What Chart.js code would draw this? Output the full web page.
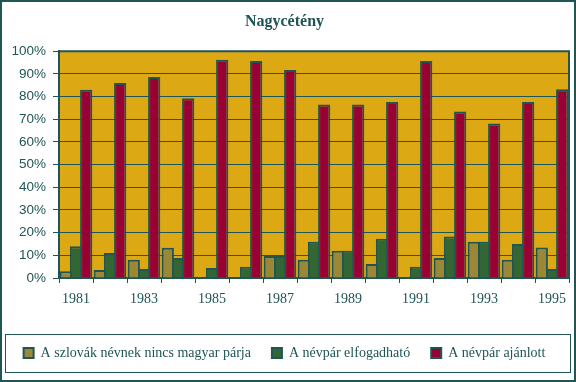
<!DOCTYPE html>
<html>
<head>
<meta charset="utf-8">
<script src="https://cdn.jsdelivr.net/npm/chart.js@4/dist/chart.umd.min.js"></script>
<style>
  html, body { margin: 0; padding: 0; background: #ffffff; }
  canvas { display: block; }
</style>
</head>
<body>
<canvas id="c" width="576" height="382"></canvas>
<script>
// ---- data ----
const chartTitle = 'Nagycétény';
const years = ['1981','1982','1983','1984','1985','1986','1987','1988','1989','1990','1991','1992','1993','1994','1995'];
const xTickLabels = ['1981','','1983','','1985','','1987','','1989','','1991','','1993','','1995'];
const seriesNames = ['A szlovák névnek nincs magyar párja', 'A névpár elfogadható', 'A névpár ajánlott'];
const noPair     = [3, 3.5, 8, 13.3, 0, 0, 9.7, 8, 12, 6.2, 0, 8.8, 16, 8, 13.4];
const acceptable = [14, 11, 4, 8.8, 4.4, 5, 9.7, 16, 12, 17.3, 5, 18.3, 16, 15, 4];
const recommended= [83, 86, 88.6, 79.3, 96.2, 95.7, 91.7, 76.5, 76.5, 77.6, 95.7, 73.4, 68.1, 77.6, 83.2];
const yTickValues = [0,10,20,30,40,50,60,70,80,90,100];

// ---- style ----
const TEAL = '#205555';
const GOLD = '#DCA915';
const OLIVE = '#9A8837';
const GREEN = '#336633';
const RED = '#990033';

const framePlugin = {
  id: 'frame',
  beforeDraw(chart) {
    const {ctx, chartArea: a} = chart;
    ctx.save();
    ctx.fillStyle = GOLD;
    ctx.fillRect(a.left, a.top, a.right - a.left, a.bottom - a.top);
    ctx.restore();
  },
  afterDatasetsDraw(chart) {
    const {ctx, chartArea: a} = chart;
    ctx.save();
    ctx.strokeStyle = TEAL;
    ctx.lineWidth = 2;
    ctx.beginPath();
    ctx.moveTo(a.left, a.top);
    ctx.lineTo(a.right, a.top);
    ctx.lineTo(a.right, a.bottom);
    ctx.stroke();
    ctx.restore();
  },
  afterDraw(chart) {
    const {ctx, width, height} = chart;
    ctx.save();
    ctx.strokeStyle = TEAL;
    ctx.lineWidth = 2;
    ctx.strokeRect(1, 1, width - 2, height - 2);
    // legend frame
    const hb = chart.legend && chart.legend.legendHitBoxes;
    if (hb && hb.length) {
      const cy = hb[0].top + hb[0].height / 2;
      ctx.lineWidth = 1;
      ctx.strokeRect(5.5, Math.round(cy - 19) + 0.5, width - 11, 38);
    }
    ctx.restore();
  }
};

new Chart(document.getElementById('c'), {
  type: 'bar',
  data: {
    labels: years,
    datasets: [
      { label: seriesNames[0], data: noPair, backgroundColor: OLIVE, borderColor: TEAL, borderWidth: 2 },
      { label: seriesNames[1], data: acceptable, backgroundColor: GREEN, borderColor: TEAL, borderWidth: 2 },
      { label: seriesNames[2], data: recommended, backgroundColor: RED, borderColor: TEAL, borderWidth: 2 }
    ]
  },
  options: {
    responsive: false,
    animation: false,
    devicePixelRatio: 1,
    datasets: { bar: { categoryPercentage: 0.9, barPercentage: 1.2 } },
    layout: { padding: { left: 0, right: 7, top: 0, bottom: 12 } },
    plugins: {
      title: {
        display: true,
        text: chartTitle,
        color: TEAL,
        font: { family: 'Liberation Serif', size: 16, weight: 'bold' },
        padding: { top: 12, bottom: 20 }
      },
      legend: {
        position: 'bottom',
        labels: {
          color: TEAL,
          font: { family: 'Liberation Serif', size: 14 },
          boxWidth: 10,
          boxHeight: 10,
          padding: 21
        }
      },
      tooltip: { enabled: false }
    },
    scales: {
      x: {
        offset: true,
        grid: { offset: true, drawOnChartArea: false, drawTicks: true, tickLength: 5, color: TEAL },
        border: { color: TEAL, width: 2 },
        ticks: {
          autoSkip: false, maxRotation: 0, minRotation: 0,
          color: TEAL, padding: 8,
          font: { family: 'Liberation Serif', size: 14 },
          callback: (v, i) => xTickLabels[i]
        },
        afterFit(scale) { scale.height = 47; }
      },
      y: {
        min: 0, max: 100,
        afterBuildTicks(scale) { scale.ticks = yTickValues.map(v => ({ value: v })); },
        grid: { color: TEAL, lineWidth: 1, drawTicks: true, tickLength: 6 },
        border: { color: TEAL, width: 2 },
        ticks: {
          color: TEAL, padding: 7,
          font: { family: 'Liberation Sans', size: 13.5 },
          callback: v => v + '%'
        },
        afterFit(scale) { scale.width = 59; }
      }
    }
  },
  plugins: [framePlugin]
});
</script>
</body>
</html>
